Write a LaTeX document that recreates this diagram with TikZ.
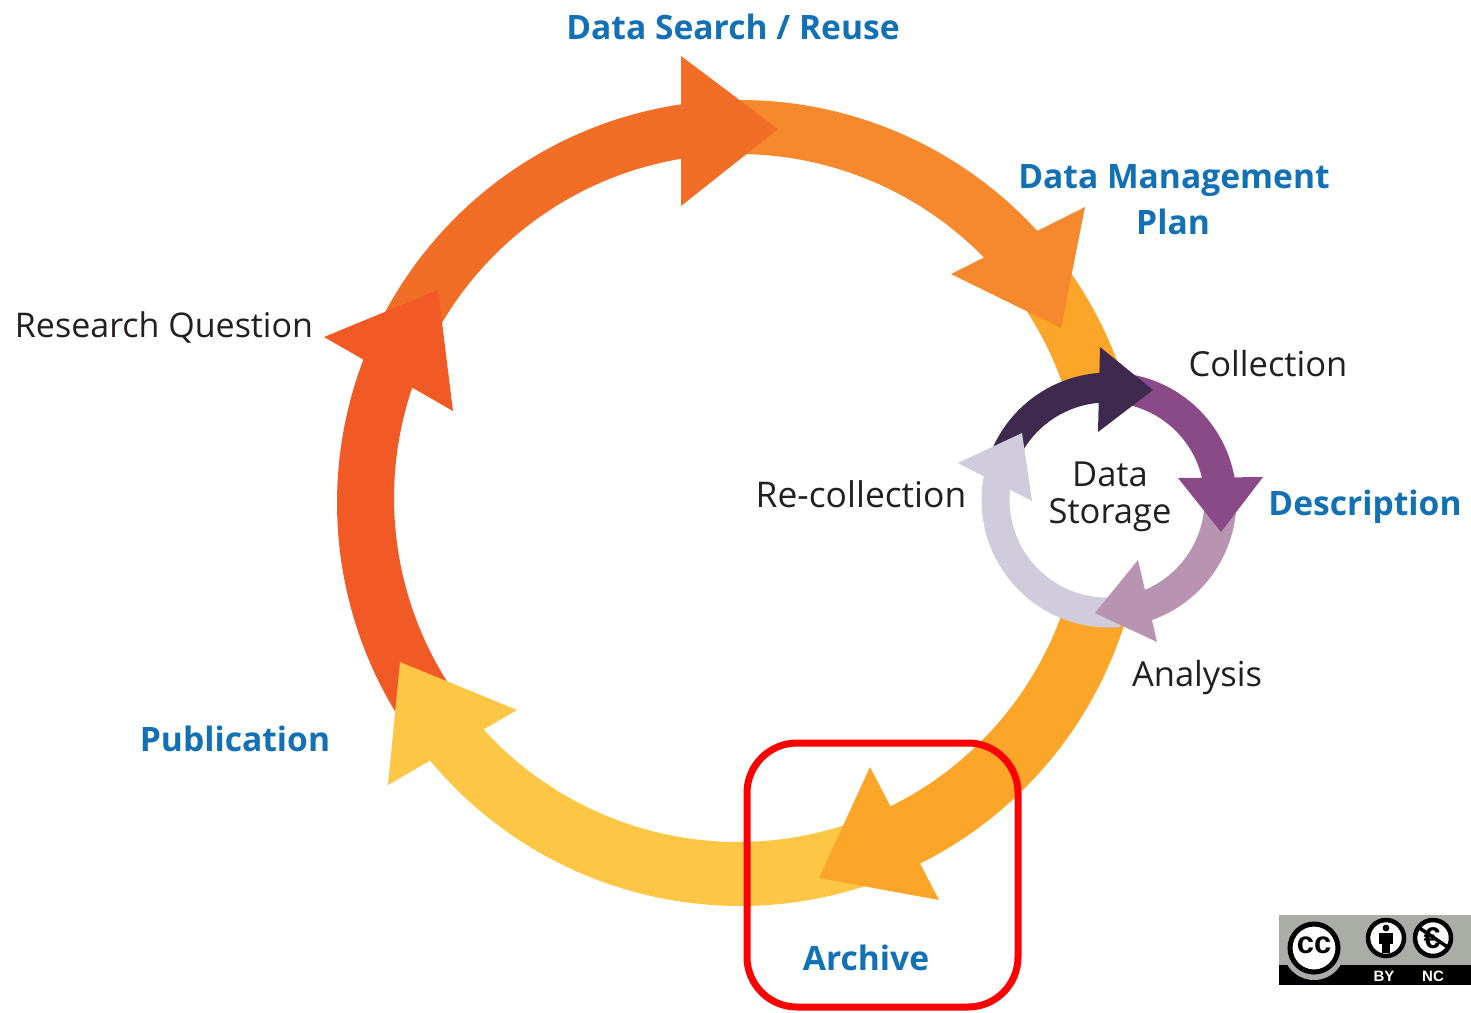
\documentclass[tikz,border=0pt]{standalone}
\usepackage{fontspec}
\setmainfont{Open Sans}
\newfontfamily\badgefont{Liberation Sans}
\definecolor{cA}{HTML}{F15A24}
\definecolor{cB}{HTML}{F26D26}
\definecolor{cC}{HTML}{F6882E}
\definecolor{cD}{HTML}{FBA529}
\definecolor{cE}{HTML}{FDC745}
\definecolor{sA}{HTML}{3F2A4F}
\definecolor{sB}{HTML}{8A4A87}
\definecolor{sC}{HTML}{B893B2}
\definecolor{sD}{HTML}{D0CCDC}
\definecolor{blueT}{HTML}{1271B5}
\definecolor{darkT}{HTML}{231F20}
\definecolor{badgeG}{HTML}{A9ADA6}
\newcommand{\bigseg}[3]{\fill[#1] plot[domain=#2:#3,samples=80] ({740+403*cos(\x)},{503+403*sin(\x)}) -- plot[domain=#3:#2,samples=80] ({738+344*cos(\x)},{498+344*sin(\x)}) -- cycle;}
\newcommand{\smallseg}[3]{\fill[#1] plot[domain=#2:#3,samples=60] ({1109+127.5*cos(\x)},{500+127.5*sin(\x)}) -- plot[domain=#3:#2,samples=60] ({1107+97.5*cos(\x)},{500+97.5*sin(\x)}) -- cycle;}
\tikzset{
  blab/.style={anchor=base,inner sep=0pt,text=blueT,font=\fontsize{33.6}{36}\selectfont\bfseries},
  dlab/.style={anchor=base,inner sep=0pt,text=darkT,font=\fontsize{34.5}{36}\selectfont},
  badgetxt/.style={anchor=base,inner sep=0pt,text=white,font=\badgefont\fontsize{15}{16}\selectfont\bfseries}
}
\begin{document}
\begin{tikzpicture}[x=1pt,y=-1pt]
\useasboundingbox (0,0) rectangle (1471,1012);
\fill[white] (0,0) rectangle (1471,1012);
% large ring bodies
\bigseg{cA}{145}{205}
\bigseg{cB}{205}{268}
\bigseg{cC}{268}{325}
\bigseg{cD}{322}{425}
\bigseg{cE}{71}{143}
% large ring heads
\fill[cA] (324,337) -- (438,290) -- (453,411) -- cycle;
\fill[cB] (681,56) -- (778,129) -- (681,206) -- cycle;
\fill[cC] (1085,207) -- (951,274) -- (1061,328) -- cycle;
\fill[cD] (870,767) -- (939,900) -- (819,878) -- cycle;
\fill[cE] (400,662) -- (517,710) -- (388,785) -- cycle;
% small ring
\fill[white] (1108,500) circle[radius=100];
\smallseg{sD}{85}{195}
\smallseg{sA}{200}{272}
\smallseg{sB}{280}{355}
\smallseg{sC}{5}{72}
\fill[sA] (1100,347) -- (1153,390) -- (1098,432) -- cycle;
\fill[sB] (1178,478) -- (1263,477) -- (1221,532) -- cycle;
\fill[sC] (1138,560) -- (1095,613) -- (1157,642) -- cycle;
\fill[sD] (1022,433) -- (958,463) -- (1032,501) -- cycle;
% labels
\node[blab] (search) at (733,39) {Data Search / Reuse};
\node[blab] (dmp) at (1174,188) {Data Management};
\node[blab] (plan) at (1173,234) {Plan};
\node[dlab,font=\fontsize{34}{36}\selectfont] (question) at (164,337) {Research Question};
\node[dlab] (collection) at (1268,376) {Collection};
\node[blab] (description) at (1365,515) {Description};
\node[dlab,font=\fontsize{35.4}{36}\selectfont] (recollection) at (861,507) {Re-collection};
\node[dlab] (data) at (1110,486) {Data};
\node[dlab] (storage) at (1110,523) {Storage};
\node[dlab] (analysis) at (1197,686) {Analysis};
\node[blab] (publication) at (235,751) {Publication};
\node[blab] (archive) at (866,970) {Archive};
% highlight box
\draw[red,line width=7pt,rounded corners=50pt] (747,743) rectangle (1018,1007);
% licence badge
\fill[badgeG] (1279,915) rectangle (1471,965);
\fill[black] (1279,965) rectangle (1471,985);
\fill[badgeG] (1314,949) circle[radius=31];
\fill[white,draw=black,line width=5pt] (1314,948) circle[radius=24];
\node[anchor=center,inner sep=0pt,text=black,font=\badgefont\fontsize{31}{31}\selectfont\bfseries] (cc) at (1314,945) {cc};
\fill[white,draw=black,line width=4.5pt] (1386,938) circle[radius=18];
\fill[black] (1386,928) circle[radius=3.4];
\fill[black] (1379,933) rectangle (1393,944);
\fill[black] (1382,944) rectangle (1390,953);
\fill[white,draw=black,line width=4.5pt] (1433,938) circle[radius=18];
\node[anchor=center,inner sep=0pt,text=black,font=\badgefont\fontsize{30}{30}\selectfont\bfseries] (euro) at (1432,938) {€};
\draw[black,line width=3.5pt] (1418,927) -- (1449,948);
\node[badgetxt] (by) at (1384,981) {BY};
\node[badgetxt] (nc) at (1433,981) {NC};
\end{tikzpicture}
\end{document}
